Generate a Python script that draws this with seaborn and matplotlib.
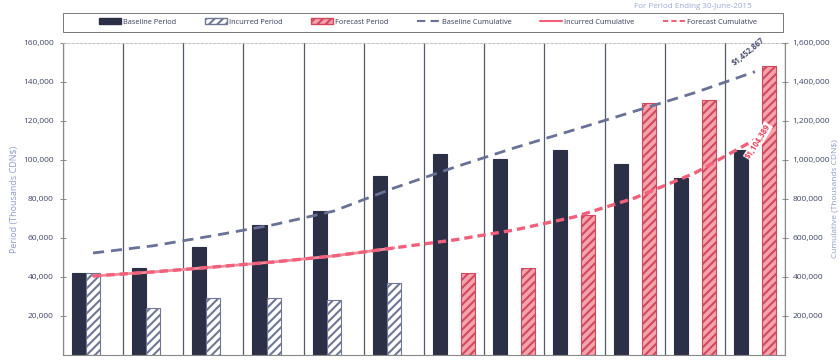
import numpy as np
import pandas as pd
import matplotlib
matplotlib.use("Agg")
import matplotlib.pyplot as plt
import seaborn as sns
from matplotlib.patches import Patch, Rectangle
from matplotlib.lines import Line2D

# ---------------- data ----------------
periods = ["P1", "P2", "P3", "P4", "P5", "P6", "P7", "P8", "P9", "P10", "P11", "P12"]
baseline_period = [42000, 44500, 55500, 66500, 74000, 92000, 103000, 100500, 105000, 98000, 91000, 105000]
incurred_period = [42000, 24000, 29000, 29000, 28000, 37000]          # P1-P6
forecast_period = [42000, 44500, 72000, 129000, 131000, 148000]       # P7-P12
baseline_cum = [523000, 560000, 612000, 668000, 738000, 856000, 962000, 1062000, 1155000, 1250000, 1345000, 1452867]
incurred_cum = [405000, 426000, 451000, 477000, 508000, 549000]       # P1-P6
forecast_cum = [405000, 426000, 451000, 477000, 508000, 549000, 590000, 641000, 708000, 805000, 933000, 1104389]
series_names = ["Baseline Period", "Incurred Period", "Forecast Period"]
left_ticks = [20000, 40000, 60000, 80000, 100000, 120000, 140000, 160000]
right_ticks = [200000, 400000, 600000, 800000, 1000000, 1200000, 1400000, 1600000]
baseline_end_label = "$1,452,867"
forecast_end_label = "$1,104,389"
subtitle = "For Period Ending 30-June-2015"

# ---------------- long table ----------------
rows = []
for i, p in enumerate(periods):
    rows.append((p, series_names[0], baseline_period[i]))
    rows.append((p, series_names[1], incurred_period[i] if i < len(incurred_period) else np.nan))
    j = i - (len(periods) - len(forecast_period))
    rows.append((p, series_names[2], forecast_period[j] if j >= 0 else np.nan))
df = pd.DataFrame(rows, columns=["period", "series", "value"])

# ---------------- style ----------------
sns.set_style("white")
plt.rcParams["font.family"] = ["Open Sans", "DejaVu Sans"]
plt.rcParams["hatch.linewidth"] = 1.5

navy = "#2c3047"
pink = "#f4a3ab"
line_blue = "#6a7196"
line_red = "#f0607a"
tick_col = "#3e4668"
label_col = "#8d9ccc"

fig = plt.figure(figsize=(8.39, 3.60), dpi=100)
ax = fig.add_axes([0.075, 0.0139, 0.8607, 0.8667])

sns.barplot(data=df, x="period", y="value", hue="series", hue_order=series_names,
            palette=[navy, "#ffffff", pink], width=0.7, gap=0, ax=ax, legend=False,
            edgecolor="#333333", linewidth=0.8, saturation=1)

for k, cont in enumerate(ax.containers):
    for bar in cont:
        if k == 1:
            bar.set_hatch("////")
            bar.set_edgecolor("#6f7795")
            bar.set_facecolor("#ffffff")
        elif k == 2:
            bar.set_hatch("////")
            bar.set_edgecolor("#d0485e")
        else:
            bar.set_edgecolor(navy)

ax.set_xlim(-0.5, len(periods) - 0.5)
ax.set_ylim(0, 160000)
ax.set_yticks(left_ticks)
ax.set_yticklabels([f"{v:,}" for v in left_ticks])
ax.set_xticks([])
ax.set_xticks(np.arange(-0.5, len(periods), 1), minor=True)
ax.grid(False)
ax.grid(which="minor", axis="x", color="#555a66", linewidth=0.9)
ax.tick_params(axis="x", which="minor", length=0)
ax.tick_params(axis="y", direction="inout", length=5, width=0.6, color="#777",
               labelsize=6.0, labelcolor=tick_col, pad=4)
ax.set_xlabel("")
ax.set_ylabel("Period (Thousands CDN$)", color=label_col, fontsize=6.5, labelpad=3)
for s in ["left", "right", "bottom"]:
    ax.spines[s].set_color("#888")
    ax.spines[s].set_linewidth(0.8)
ax.spines["top"].set_color("#bbbbbb")
ax.spines["top"].set_linestyle((0, (3, 2)))
ax.spines["top"].set_linewidth(0.6)

# ---------------- cumulative lines ----------------
ax2 = ax.twinx()
x_all = list(range(len(periods)))
sns.lineplot(x=x_all, y=baseline_cum, ax=ax2, color=line_blue, linewidth=2.0)
sns.lineplot(x=x_all[:len(incurred_cum)], y=incurred_cum, ax=ax2, color="#f38a9a", linewidth=2.0)
sns.lineplot(x=x_all, y=forecast_cum, ax=ax2, color=line_red, linewidth=2.4)
lines = ax2.get_lines()
lines[0].set_dashes((4, 2.5))
lines[2].set_dashes((2.5, 1.5))
ax2.set_ylim(0, 1600000)
ax2.set_yticks(right_ticks)
ax2.set_yticklabels([f"{v:,}" for v in right_ticks])
ax2.tick_params(axis="y", direction="inout", length=5, width=0.6, color="#777",
                labelsize=6.0, labelcolor=tick_col, pad=3)
ax2.set_ylabel("Cumulative (Thousands CDN$)", color=label_col, fontsize=6.0, labelpad=1)
ax2.grid(False)
for s in ax2.spines.values():
    s.set_visible(False)

ax2.text(10.9, 1555000, baseline_end_label, rotation=40, ha="center", va="center",
         fontsize=5.5, fontweight="bold", color="#4a5070")
ax2.text(11.05, 1095000, forecast_end_label, rotation=58, ha="center", va="center",
         fontsize=5.5, fontweight="bold", color="#e8405c",
         bbox=dict(facecolor="white", edgecolor="none", pad=0.5))

# ---------------- legend ----------------
handles = [
    Patch(facecolor=navy, edgecolor=navy, label="Baseline Period"),
    Patch(facecolor="white", edgecolor="#6f7795", hatch="////", label="Incurred Period"),
    Patch(facecolor=pink, edgecolor="#d0485e", hatch="////", label="Forecast Period"),
    Line2D([0], [0], color=line_blue, lw=1.5, dashes=(4, 2.5), label="Baseline Cumulative"),
    Line2D([0], [0], color=line_red, lw=1.5, label="Incurred Cumulative"),
    Line2D([0], [0], color=line_red, lw=1.5, dashes=(2.5, 1.5), label="Forecast Cumulative"),
]
fig.patches.append(Rectangle((0.075, 0.911), 0.858, 0.053, transform=fig.transFigure,
                             facecolor="none", edgecolor="#777777", linewidth=0.7))
leg = fig.legend(handles=handles, loc="lower left",
                 bbox_to_anchor=(0.11, 0.911, 0.80, 0.053), mode="expand",
                 ncol=6, fontsize=5.3, frameon=False,
                 handlelength=3.0, handleheight=0.8, borderpad=0.35,
                 handletextpad=0.3, columnspacing=1.0, labelcolor="#353b5a")

fig.text(0.896, 0.983, subtitle, ha="right", va="center", fontsize=5.8, color="#9aaad6")

fig.savefig("out.png", dpi=100)
